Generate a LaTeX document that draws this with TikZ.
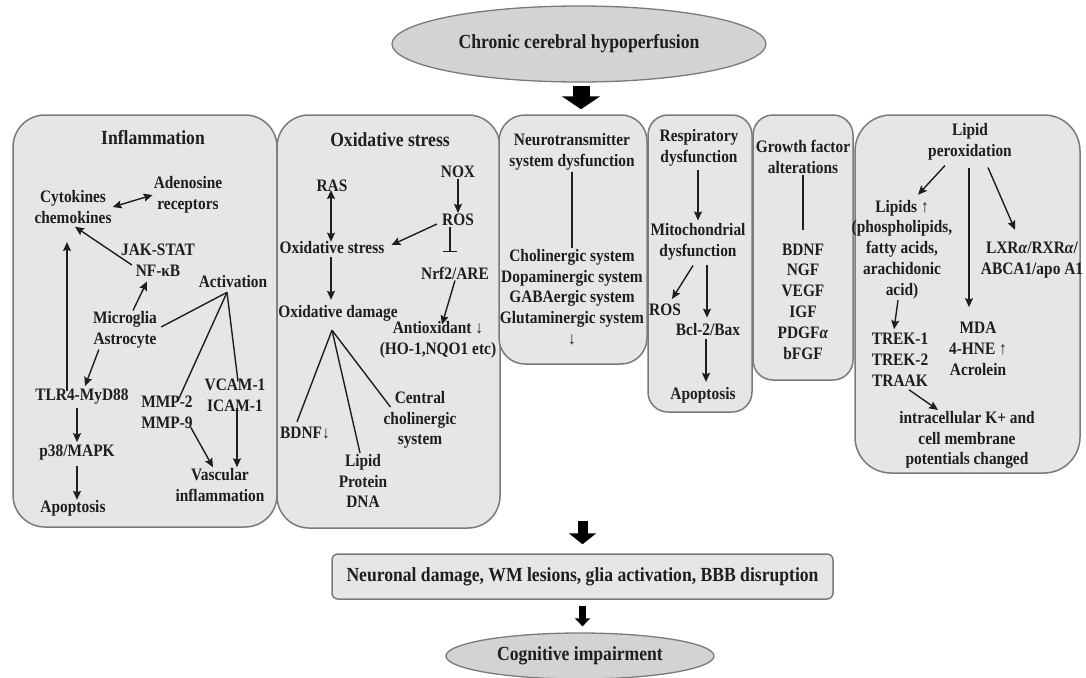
\documentclass[tikz,border=0pt]{standalone}
\usepackage{fontspec}
\setmainfont{Liberation Serif}[FakeStretch=0.88]
\usetikzlibrary{shapes.geometric,arrows.meta,calc}
\definecolor{panelfill}{HTML}{E6E6E6}
\definecolor{panelline}{HTML}{7A7A7A}
\definecolor{ellfill}{HTML}{D3D3D3}
\definecolor{inkc}{HTML}{1E1E1E}
\newcommand\bodyfont{\fontsize{17.5}{20.8}\selectfont\bfseries}
\newcommand\titlefont{\fontsize{20}{22}\selectfont\bfseries}
\begin{document}
\begin{tikzpicture}[x=1pt,y=-1pt,
  panel/.style={draw=panelline, fill=panelfill, line width=1.5pt, rounded corners=#1, inner sep=0pt},
  panel/.default=32pt,
  ell/.style={ellipse, draw=panelline, fill=ellfill, line width=1.3pt, font=\titlefont, text=inkc, inner sep=0pt},
  txt/.style={font=\bodyfont, align=center, inner sep=1pt, text=inkc},
  ttl/.style={font=\titlefont, align=center, inner sep=1pt, text=inkc},
  tip/.tip={Stealth[length=9pt,width=8pt,inset=1.5pt]},
  arr/.style={draw=inkc, line width=1.4pt, -tip},
  darr/.style={draw=inkc, line width=1.4pt, tip-tip},
  ln/.style={draw=inkc, line width=1.4pt},
  inh/.style={draw=inkc, line width=1.4pt, -{Bar[width=14pt,line width=1.4pt]}},
  blkA/.style={draw=black, line width=17pt, -{Triangle[width=38pt,length=13pt]}},
  blkB/.style={draw=black, line width=10pt, -{Triangle[width=27pt,length=11pt]}},
  blkC/.style={draw=black, line width=7pt, -{Triangle[width=15pt,length=8pt]}}
]
\fill[white] (0,0) rectangle (1086,677);
\useasboundingbox (0,0) rectangle (1086,677);

% ---------- top / bottom ----------
\node[ell, minimum width=374pt, minimum height=76pt] (top) at (579,44) {Chronic cerebral hypoperfusion};

% ---------- panels ----------
\node[panel, minimum width=264pt, minimum height=412pt] (pinf) at (145,321) {};
\node[panel, minimum width=223pt, minimum height=413pt] (pox) at (388.5,321.5) {};
\node[panel=26pt, minimum width=148pt, minimum height=249pt] (pneu) at (573,239.5) {};
\node[panel=20pt, minimum width=104pt, minimum height=297pt] (pres) at (700,263.5) {};
\node[panel=20pt, minimum width=100pt, minimum height=265pt] (pgro) at (803,247.5) {};
\node[panel=36pt, minimum width=225pt, minimum height=358pt] (plip) at (967.5,294) {};

\node[panel=6pt, minimum width=501pt, minimum height=45pt, font=\titlefont, text=inkc] (nd) at (582.5,576.5) {Neuronal damage, WM lesions, glia activation, BBB disruption};
\node[ell, minimum width=268pt, minimum height=46pt] (cog) at (580,656) {Cognitive impairment};

\draw[blkA] ($(top.south)+(2,3)$) -- ($(top.south |- pneu.north)+(2,-5)$);
\draw[blkB] ($(nd.north)+(0,-32)$) -- ($(nd.north)+(0,-9)$);
\draw[blkC] ($(nd.south)+(0,6)$) -- ($(nd.south |- cog.north)+(0,-6)$);

% ---------- Inflammation ----------
\node[ttl] (inftitle) at (153,138) {Inflammation};
\node[txt] (cyto) at (73,207) {Cytokines\\chemokines};
\node[txt] (aden) at (188,195) {Adenosine\\receptors};
\node[txt] (jak) at (158,260) {JAK-STAT\\NF-κB};
\node[txt] (activ) at (233,282) {Activation};
\node[txt] (micro) at (125,330) {Microglia\\Astrocyte};
\node[txt] (vcam) at (235,395) {VCAM-1\\ICAM-1};
\node[txt] (mmp) at (167,412) {MMP-2\\MMP-9};
\node[txt] (tlr) at (82,397) {TLR4-MyD88};
\node[txt] (p38) at (77,453) {p38/MAPK};
\node[txt] (apo1) at (73,508) {Apoptosis};
\node[txt] (vasc) at (220,485) {Vascular\\inflammation};
\coordinate (actp) at ($(activ.south)+(-6,3)$);

\draw[darr] (cyto.east) -- (aden.west);
\draw[arr] ($(jak.west)+(12,5)$) -- ($(cyto.south)+(2,2)$);
\draw[arr] ($(micro.north)+(8,0)$) -- ($(jak.south)+(-11,4)$);
\draw[ln] (actp) -- ($(micro.east)+(3,-3)$);
\draw[ln] (actp) -- ($(mmp.north)+(11,6)$);
\draw[ln] (actp) -- ($(vcam.north)+(3,4)$);
\draw[arr] ($(micro.south west)+(7,0)$) -- ($(tlr.north)+(3,-2)$);
\draw[arr] ($(tlr.north)+(-15,3)$) -- ($(tlr.north)+(-15,-146)$);
\draw[arr] ($(tlr.south)+(-5,2)$) -- ($(p38.north)+(0,-2)$);
\draw[arr] ($(p38.south)+(0,4)$) -- ($(p38.south |- apo1.north)+(0,1)$);
\draw[arr] ($(mmp.south east)+(-3,-2)$) -- ($(vasc.north)+(-7,0)$);
\draw[arr] ($(vcam.south)+(2,-4)$) -- ($(vcam.south |- vasc.north)+(2,0)$);

% ---------- Oxidative stress ----------
\node[ttl] (oxtitle) at (390,140) {Oxidative\ stress};
\node[txt] (nox) at (458,172) {NOX};
\node[txt] (ras) at (332,186) {RAS};
\node[txt] (ros) at (458,220) {ROS};
\node[txt] (oxs) at (332,248) {Oxidative stress};
\node[txt] (nrf) at (455,273) {Nrf2/ARE};
\node[txt] (oxd) at (338,313) {Oxidative damage};
\node[txt] (antiox) at (438,340) {Antioxidant ↓\\(HO-1,NQO1 etc)};
\node[txt] (bdnfa) at (305,433) {BDNF↓};
\node[txt] (central) at (420,420) {Central\\cholinergic\\system};
\node[txt] (lpd) at (363,481) {Lipid\\Protein\\DNA};
\coordinate (odp) at ($(oxd.south)+(-6,8)$);

\draw[arr] (nox.south) -- (ros.north);
\draw[darr] ($(ras.south)+(-1,-3)$) -- ($(oxs.north)+(-1,1)$);
\draw[arr] ($(ros.west)+(-4,4)$) -- ($(oxs.east)+(6,-3)$);
\draw[inh] ($(ros.south)+(-8,0)$) -- ($(ros.south)+(-8,25)$);
\draw[arr] (nrf.south) -- ($(antiox.north)+(4,4)$);
\draw[arr] ($(oxs.south)+(-1,2)$) -- ($(oxs.south |- oxd.north)+(-1,-4)$);
\draw[ln] (odp) -- ($(bdnfa.north)+(-8,-4)$);
\draw[ln] (odp) -- ($(lpd.north)+(-3,0)$);
\draw[ln] (odp) -- ($(central.west)+(8,-13)$);

% ---------- Neurotransmitter ----------
\node[txt] (ntitle) at (572,152) {Neurotransmitter\\system dysfunction};
\node[txt] (nlist) at (572,297) {Cholinergic system\\Dopaminergic system\\GABAergic system\\Glutaminergic system\\{\mdseries ↓}};
\draw[ln] (ntitle.south) -- (nlist.north);

% ---------- Respiratory ----------
\node[txt] (rtitle) at (699,148) {Respiratory\\dysfunction};
\node[txt] (mito) at (698,242) {Mitochondrial\\dysfunction};
\node[txt] (rosb) at (665,310) {ROS};
\node[txt] (bcl) at (708,330) {Bcl-2/Bax};
\node[txt] (apo2) at (703,395) {Apoptosis};
\draw[arr] ($(rtitle.south)+(-1,2)$) -- ($(mito.north)+(0,-2)$);
\draw[arr] ($(mito.south)+(-5,4)$) -- ($(rosb.north)+(7,-4)$);
\draw[arr] ($(mito.south -| bcl.north)+(-1,3)$) -- ($(bcl.north)+(-1,-5)$);
\draw[arr] ($(bcl.south)+(-2,2)$) -- ($(bcl.south |- apo2.north)+(-2,-4)$);

% ---------- Growth factor ----------
\node[txt] (gtitle) at (803,157) {Growth factor\\alterations};
\node[txt] (glist) at (803,301.5) {BDNF\\NGF\\VEGF\\IGF\\PDGF\textit{α}\\bFGF};
\draw[ln] (gtitle.south) -- ($(glist.north)+(0,-12)$);

% ---------- Lipid peroxidation ----------
\node[txt] (ltitle) at (970,142) {Lipid\\peroxidation};
\node[txt] (lipids) at (902,249.5) {Lipids ↑\\(phospholipids,\\fatty acids,\\arachidonic\\acid)};
\node[txt] (lxr) at (1032,260) {LXR\textit{α}/RXR\textit{α}/\\ABCA1/apo A1};
\node[txt] (trek) at (900,360) {TREK-1\\TREK-2\\TRAAK};
\node[txt] (mda) at (978,349) {MDA\\4-HNE ↑\\Acrolein};
\node[txt] (kplus) at (967,440) {intracellular K+ and\\cell membrane\\potentials changed};
\draw[arr] ($(ltitle.south)+(-25,4)$) -- ($(lipids.north)+(16,-4)$);
\draw[arr] ($(ltitle.south)+(-1,6)$) -- ($(ltitle.south |- mda.north)+(-1,-14)$);
\draw[arr] ($(ltitle.south)+(18,6)$) -- ($(lxr.north)+(-17,-11)$);
\draw[arr] ($(lipids.south)+(-4,0)$) -- ($(trek.north)+(-6,-3)$);
\draw[arr] ($(trek.south)+(9,2)$) -- ($(kplus.north)+(-29,0)$);
\end{tikzpicture}
\end{document}
